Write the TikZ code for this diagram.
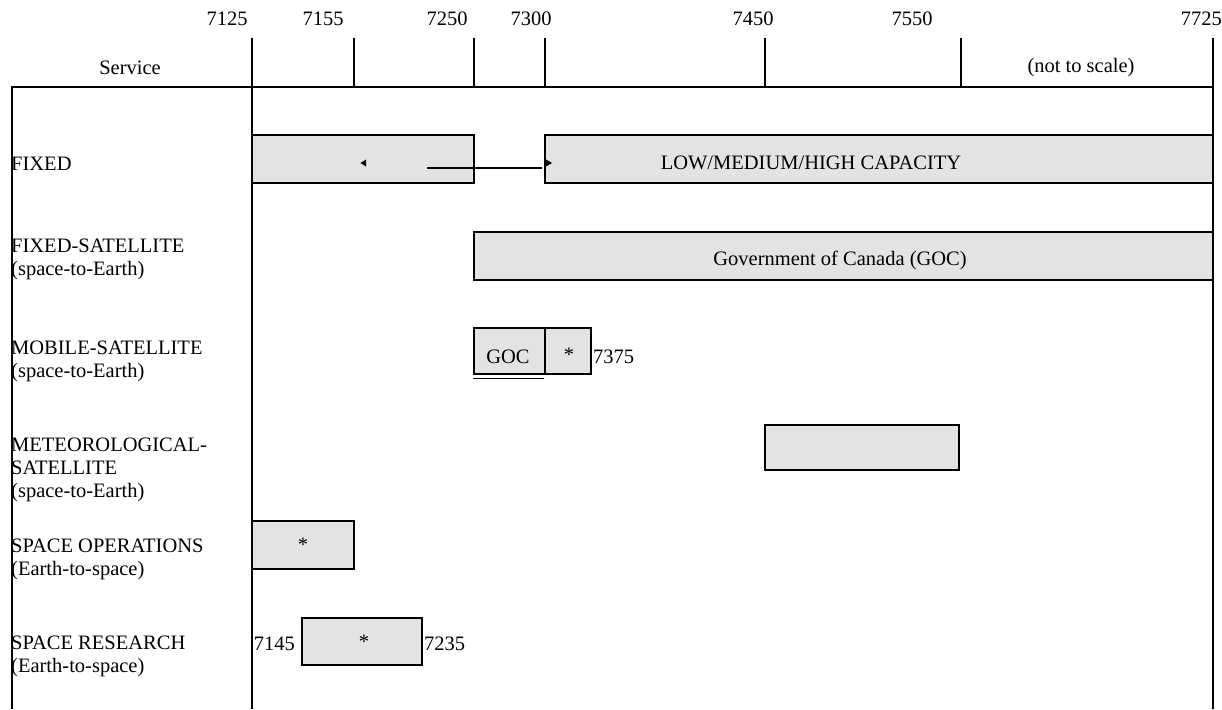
\documentclass[tikz,border=0pt]{standalone}
\usepackage{fontspec}
\setmainfont{Liberation Serif}
\definecolor{bandgray}{HTML}{E3E3E3}
\tikzset{
  rule/.style={line width=1.6pt},
  band/.style={draw, line width=1.6pt, fill=bandgray, inner sep=0pt},
  lbl/.style={inner sep=0pt, font=\fontsize{20.5}{23}\selectfont, align=left, anchor=west},
  txt/.style={inner sep=0pt, font=\fontsize{20.5}{23}\selectfont},
}
\begin{document}
\begin{tikzpicture}[x=1pt,y=-1pt]
\useasboundingbox (0,0) rectangle (1222,709);
% frame
\draw[rule] (252,38) -- (252,709);
\draw[rule] (1213,38) -- (1213,709);
\draw[rule] (12,709) -- (12,87) -- (1213,87);
\foreach \x in {354,474,545,765,961} \draw[rule] (\x,38) -- (\x,87);
% scale labels
\node[txt] (f7125) at (227,19) {7125};
\node[txt] (f7155) at (323,19) {7155};
\node[txt] (f7250) at (447,19) {7250};
\node[txt] (f7300) at (531,19) {7300};
\node[txt] (f7450) at (753,19) {7450};
\node[txt] (f7550) at (912,19) {7550};
\node[txt, anchor=east] (f7725) at (1222,19) {7725};
\node[txt] (service) at (130,68) {Service};
\node[txt] (nts) at (1081,68) {(not to scale)};
% service labels
\node[lbl] (lfixed) at (11,164) {FIXED};
\node[lbl] (lfss) at (11,259) {FIXED-SATELLITE\\(space-to-Earth)};
\node[lbl] (lmss) at (11,361) {MOBILE-SATELLITE\\(space-to-Earth)};
\node[lbl] (lmet) at (11,470) {METEOROLOGICAL-\\SATELLITE\\(space-to-Earth)};
\node[lbl] (lso) at (11,559) {SPACE OPERATIONS\\(Earth-to-space)};
\node[lbl] (lsr) at (11,656) {SPACE RESEARCH\\(Earth-to-space)};
% FIXED
\node[band, minimum width=222pt, minimum height=48pt] (fx1) at (363,159) {};
\node[band, minimum width=668pt, minimum height=48pt] (fx2) at (879,159) {};
\node[txt] (fxt) at (811,163) {LOW/MEDIUM/HIGH CAPACITY};
\coordinate (al) at (366,163);
\coordinate (ar) at (546,163);
\fill (al) -- ++(-5.5,0) -- ++(5.5,-3.5) -- cycle;
\fill (al) -- ++(-5.5,0) -- ++(5.5,3.5) -- cycle;
\fill (ar) -- ++(6,0) -- ++(-6,-3.5) -- cycle;
\fill (ar) -- ++(6,0) -- ++(-6,3.5) -- cycle;
\coordinate (ls) at (427,168);
\coordinate (le) at (542,168);
\draw[line width=1.6pt] (ls) -- (le);
% FIXED-SATELLITE
\node[band, minimum width=739pt, minimum height=48pt] (fss) at (843.5,256) {};
\node[txt] (fsst) at (840,260) {Government of Canada (GOC)};
% MOBILE-SATELLITE
\node[band, minimum width=71pt, minimum height=46pt] (goc) at (509.5,351) {};
\node[txt] (goct) at (508,357) {GOC};
\node[band, minimum width=46pt, minimum height=46pt] (mst) at (568,351) {};
\node[txt] (mstt) at (569,355) {*};
\draw[line width=1.2pt] (goc.south west) ++(0,3.5) -- ++(71,0);
\node[txt, anchor=west] (f7375) at (593,357) {7375};
% METEOROLOGICAL-SATELLITE
\node[band, minimum width=194pt, minimum height=45pt] (met) at (862,447.5) {};
% SPACE OPERATIONS
\node[band, minimum width=102pt, minimum height=48pt] (so) at (303,545) {};
\node[txt] (sot) at (303,545) {*};
% SPACE RESEARCH
\node[band, minimum width=120pt, minimum height=47pt] (sr) at (362,641.5) {};
\node[txt] (srt) at (364,642) {*};
\node[txt, anchor=east] (f7145) at (295,644) {7145};
\node[txt, anchor=west] (f7235) at (424,644) {7235};
\end{tikzpicture}
\end{document}
